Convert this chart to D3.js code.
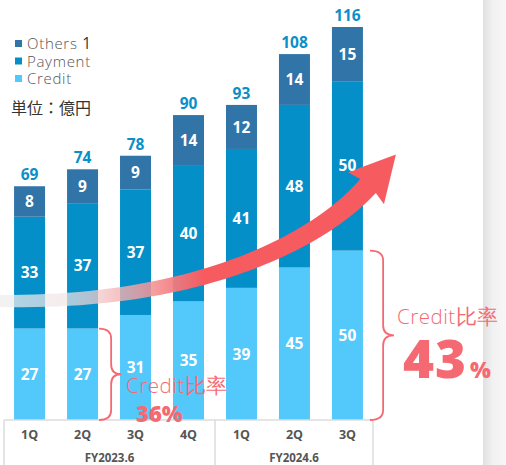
<!DOCTYPE html>
<html>
<head>
<meta charset="utf-8">
<script src="https://cdn.jsdelivr.net/npm/d3@7"></script>
<style>
  body { margin: 0; background: #fff; }
  svg { display: block; font-family: "Open Sans", "Noto Sans", sans-serif; }
</style>
</head>
<body>
<div class="container"></div>
<script>
const quarters = ['1Q', '2Q', '3Q', '4Q', '1Q', '2Q', '3Q'];
const fiscalYears = ['FY2023.6', 'FY2024.6'];
const credit = [27, 27, 31, 35, 39, 45, 50];
const payment = [33, 37, 37, 40, 41, 48, 50];
const others = [8, 9, 9, 14, 12, 14, 15];
const totals = [69, 74, 78, 90, 93, 108, 116];
const seriesNames = ['Others', 'Payment', 'Credit'];
const colors = { Others: '#3174a8', Payment: '#048fc9', Credit: '#52c8fb' };

const width = 506;
const height = 465;
const red = '#f65b60';
const pink = '#f56a72';

const svg = d3.select('.container')
  .append('svg')
  .attr('width', width)
  .attr('height', height);

const defs = svg.append('defs');

// right-hand grey panel edge
const panelGrad = defs.append('linearGradient').attr('id', 'panel');
panelGrad.append('stop').attr('offset', 0).attr('stop-color', '#e0e0e0');
panelGrad.append('stop').attr('offset', 0.4).attr('stop-color', '#f1f1f1');
panelGrad.append('stop').attr('offset', 1).attr('stop-color', '#f7f7f7');
svg.append('rect')
  .attr('x', 483).attr('y', 0).attr('width', width - 483).attr('height', height)
  .attr('fill', 'url(#panel)');

const xScale = d3.scaleBand()
  .domain(d3.range(quarters.length))
  .range([4, 373])
  .paddingInner(0.415)
  .paddingOuter(0.19);
const bw = xScale.bandwidth();

const yScale = d3.scaleLinear()
  .domain([0, 116])
  .range([420, 27]);

// rows of stacked data; the top segment runs up to the rounded total
const rows = quarters.map((q, i) => ({
  i: i,
  Credit: [0, credit[i]],
  Payment: [credit[i], credit[i] + payment[i]],
  Others: [credit[i] + payment[i], totals[i]]
}));

['Credit', 'Payment', 'Others'].forEach(name => {
  svg.selectAll('rect.' + name)
    .data(rows)
    .enter()
    .append('rect')
    .attr('class', name)
    .attr('x', d => xScale(d.i))
    .attr('y', d => yScale(d[name][1]))
    .attr('width', bw)
    .attr('height', d => yScale(d[name][0]) - yScale(d[name][1]))
    .attr('fill', colors[name]);
});

// total labels
svg.selectAll('text.total')
  .data(rows)
  .enter()
  .append('text')
  .attr('class', 'total')
  .attr('x', d => xScale(d.i) + bw / 2)
  .attr('y', d => yScale(totals[d.i]) - 6)
  .attr('text-anchor', 'middle')
  .attr('fill', '#0a8fc9')
  .attr('font-size', 15.5)
  .attr('font-weight', 700)
  .text(d => totals[d.i]);

// curved arrow
const P = [[0, 301], [200, 304], [320, 240], [368, 186]];
function bez(t) {
  const u = 1 - t;
  const a = u * u * u, b = 3 * u * u * t, c = 3 * u * t * t, e = t * t * t;
  return [a * P[0][0] + b * P[1][0] + c * P[2][0] + e * P[3][0],
          a * P[0][1] + b * P[1][1] + c * P[2][1] + e * P[3][1]];
}
function bezD(t) {
  const u = 1 - t;
  return [3 * u * u * (P[1][0] - P[0][0]) + 6 * u * t * (P[2][0] - P[1][0]) + 3 * t * t * (P[3][0] - P[2][0]),
          3 * u * u * (P[1][1] - P[0][1]) + 6 * u * t * (P[2][1] - P[1][1]) + 3 * t * t * (P[3][1] - P[2][1])];
}
const upper = [], lower = [];
d3.range(0, 1.0001, 0.02).forEach(t => {
  const p = bez(t), d = bezD(t);
  const len = Math.hypot(d[0], d[1]);
  const nx = -d[1] / len, ny = d[0] / len;
  const w = (12 + 9 * t) / 2;
  upper.push([p[0] - nx * w, p[1] - ny * w]);
  lower.push([p[0] + nx * w, p[1] + ny * w]);
});
const end = P[3];
const dEnd = bezD(1);
const dl = Math.hypot(dEnd[0], dEnd[1]);
const ux = dEnd[0] / dl, uy = dEnd[1] / dl;
const nx = -uy, ny = ux;
const tip = [end[0] + ux * 42, end[1] + uy * 42];
const wingA = [end[0] - nx * 24 - ux * 3, end[1] - ny * 24 - uy * 3];
const wingB = [end[0] + nx * 24 - ux * 3, end[1] + ny * 24 - uy * 3];
const arrowPts = upper.concat([wingA, tip, wingB]).concat(lower.slice().reverse());

const arrowGrad = defs.append('linearGradient')
  .attr('id', 'arrowGrad')
  .attr('gradientUnits', 'userSpaceOnUse')
  .attr('x1', 0).attr('x2', 240).attr('y1', 0).attr('y2', 0);
arrowGrad.append('stop').attr('offset', 0).attr('stop-color', '#eeeeee').attr('stop-opacity', 0.75);
arrowGrad.append('stop').attr('offset', 0.3).attr('stop-color', '#f2e4e4').attr('stop-opacity', 0.7);
arrowGrad.append('stop').attr('offset', 0.6).attr('stop-color', '#f49a9c').attr('stop-opacity', 0.85);
arrowGrad.append('stop').attr('offset', 0.85).attr('stop-color', red).attr('stop-opacity', 1);

svg.append('path')
  .attr('d', d3.line()(arrowPts) + 'Z')
  .attr('fill', 'url(#arrowGrad)');

// segment labels
const segLabel = (name, vals) => {
  svg.selectAll('text.lbl' + name)
    .data(rows)
    .enter()
    .append('text')
    .attr('class', 'lbl' + name)
    .attr('x', d => xScale(d.i) + bw / 2)
    .attr('y', d => (yScale(d[name][0]) + yScale(d[name][1])) / 2)
    .attr('dy', '0.36em')
    .attr('text-anchor', 'middle')
    .attr('fill', '#fff')
    .attr('font-size', 15.5)
    .attr('font-weight', 700)
    .text(d => vals[d.i]);
};
segLabel('Credit', credit);
segLabel('Payment', payment);
segLabel('Others', others);

// category axis box
const axisTop = yScale(0);
const divX = (xScale(3) + bw + xScale(4)) / 2;
svg.append('line')
  .attr('x1', 4).attr('x2', 373).attr('y1', axisTop).attr('y2', axisTop)
  .attr('stroke', '#dcdcdc').attr('stroke-width', 1.5);
[4, divX, 373].forEach(x => {
  svg.append('line')
    .attr('x1', x).attr('x2', x).attr('y1', axisTop).attr('y2', height)
    .attr('stroke', '#dcdcdc').attr('stroke-width', 1.5);
});

const xAxis = d3.axisBottom(xScale)
  .tickSize(0)
  .tickPadding(10)
  .tickFormat(i => quarters[i]);
const gx = svg.append('g')
  .attr('transform', `translate(0, ${axisTop})`)
  .call(xAxis);
gx.select('.domain').remove();
gx.selectAll('text')
  .attr('font-family', '"Open Sans", sans-serif')
  .attr('font-size', 12.5)
  .attr('font-weight', 700)
  .attr('fill', '#555');

fiscalYears.forEach((fy, k) => {
  const x0 = k === 0 ? 4 : divX;
  const x1 = k === 0 ? divX : 373;
  svg.append('text')
    .attr('x', (x0 + x1) / 2)
    .attr('y', 462)
    .attr('text-anchor', 'middle')
    .attr('font-size', 11.5)
    .attr('font-weight', 700)
    .attr('fill', '#555')
    .text(fy);
});

// legend
seriesNames.forEach((name, k) => {
  const y = 44 + k * 17.5;
  svg.append('rect')
    .attr('x', 15).attr('y', y - 4).attr('width', 7).attr('height', 7)
    .attr('fill', colors[name]);
  const t = svg.append('text')
    .attr('x', 27).attr('y', y)
    .attr('dy', '0.36em')
    .attr('font-size', 15)
    .attr('font-weight', 300)
    .attr('letter-spacing', 0.7)
    .attr('fill', '#555')
    .text(name === 'Others' ? 'Others ' : name);
  if (name === 'Others') {
    t.append('tspan').attr('font-weight', 400).attr('font-size', 15.5).attr('fill', '#333').text('1');
  }
});
svg.append('text')
  .attr('x', 11).attr('y', 114)
  .attr('font-family', '"Noto Sans CJK JP", sans-serif')
  .attr('font-size', 16)
  .attr('fill', '#333')
  .text('単位：億円');

// braces
function brace(x, yTop, yBot, depth) {
  const ym = (yTop + yBot) / 2;
  const xv = x + depth * 0.55;
  const r = 10;
  return `M${x},${yTop} Q${xv},${yTop} ${xv},${yTop + r} L${xv},${ym - r} Q${xv},${ym} ${x + depth},${ym}` +
         ` Q${xv},${ym} ${xv},${ym + r} L${xv},${yBot - r} Q${xv},${yBot} ${x},${yBot}`;
}
svg.append('path')
  .attr('d', brace(xScale(1) + bw + 1, yScale(credit[0]), yScale(0), 22))
  .attr('fill', 'none').attr('stroke', pink).attr('stroke-width', 1.8);
svg.append('path')
  .attr('d', brace(xScale(6) + bw + 7, yScale(credit[6]), yScale(0), 24))
  .attr('fill', 'none').attr('stroke', pink).attr('stroke-width', 1.8);

// credit ratio texts
svg.append('text')
  .attr('x', 126).attr('y', 393)
  .attr('font-size', 20.5).attr('font-weight', 300)
  .attr('letter-spacing', 0.5)
  .attr('fill', pink)
  .text('Credit比率');
svg.append('text')
  .attr('x', 136).attr('y', 422)
  .attr('font-size', 22).attr('font-weight', 800)
  .attr('fill', pink)
  .text('36%');

svg.append('text')
  .attr('x', 397).attr('y', 324)
  .attr('font-size', 20.5).attr('font-weight', 300)
  .attr('letter-spacing', 0.5)
  .attr('fill', pink)
  .text('Credit比率');
const big = svg.append('text')
  .attr('x', 403).attr('y', 378)
  .attr('font-weight', 800)
  .attr('fill', pink);
big.append('tspan').attr('font-size', 53).attr('letter-spacing', 1).text('43');
big.append('tspan').attr('font-size', 22).attr('dx', 3).text('%');
</script>
</body>
</html>
